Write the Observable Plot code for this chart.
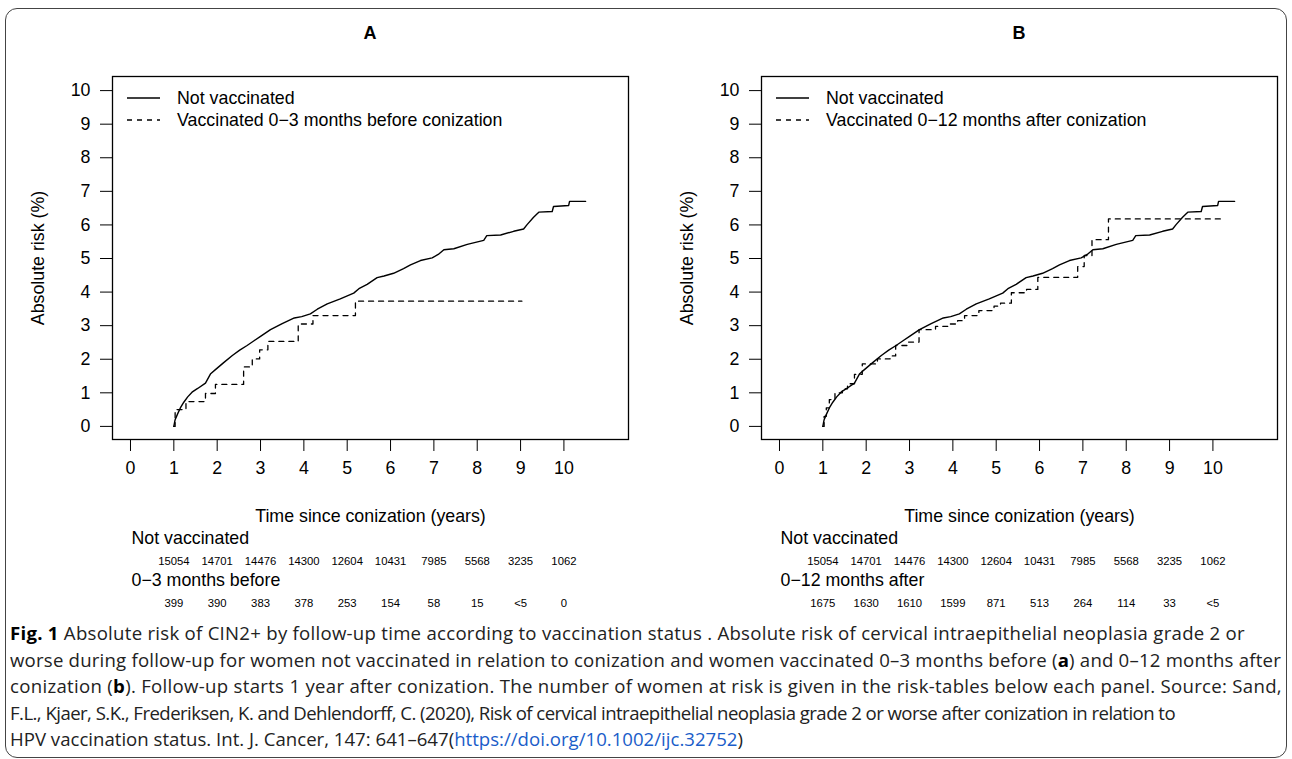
<!DOCTYPE html>
<html><head><meta charset="utf-8">
<script src="https://cdn.jsdelivr.net/npm/d3@7"></script>
<script src="https://cdn.jsdelivr.net/npm/@observablehq/plot@0.6"></script>
<style>
html,body{margin:0;padding:0;background:#fff;overflow:hidden;}
#fig{position:relative;width:1292px;height:759px;font-family:"Liberation Sans",Arial,sans-serif;color:#000;}
.border{position:absolute;left:5px;top:8px;width:1282px;height:750px;border:1px solid #444;border-radius:12px;box-sizing:border-box;}
.ptitle{position:absolute;top:23px;font-weight:bold;font-size:18px;transform:translateX(-50%);}
.panel{position:absolute;top:0;}
.rtable{position:absolute;top:525px;}
.legend{position:absolute;top:87px;font-size:17.8px;line-height:22px;}
.legend div{display:flex;align-items:center;white-space:nowrap;}
.legend svg{margin-right:17px;}
.caption{position:absolute;left:10px;top:620px;font-family:"Open Sans",sans-serif;font-size:18.6px;line-height:26.5px;color:#222;white-space:nowrap;}
.caption div{height:26.5px;}
.caption span.l{display:inline-block;}
.caption b{color:#000;}
.caption .link{color:#1a5dc9;}
</style></head>
<body><div id="fig"><div class="border"></div></div>
<script>
// ---- data ----
const xTicks = [0,1,2,3,4,5,6,7,8,9,10];
const yTicks = [0,1,2,3,4,5,6,7,8,9,10];
const riskYears = [1,2,3,4,5,6,7,8,9,10];
const panelTitles = ["A","B"];

const notVaxTime = [1.00,1.03,1.09,1.15,1.23,1.32,1.42,1.55,1.73,1.85,1.96,2.15,2.35,2.52,2.69,2.85,3.00,3.23,3.50,3.78,3.95,4.15,4.31,4.54,4.84,5.15,5.27,5.46,5.69,5.85,6.07,6.30,6.46,6.69,6.96,7.10,7.23,7.46,7.77,8.15,8.22,8.54,8.84,9.07,9.15,9.30,9.42,9.73,9.76,10.11,10.13,10.50];
const notVaxRisk = [0.00,0.20,0.38,0.55,0.72,0.88,1.02,1.13,1.29,1.57,1.69,1.90,2.11,2.27,2.41,2.55,2.68,2.88,3.06,3.23,3.27,3.35,3.49,3.65,3.80,3.97,4.10,4.23,4.43,4.48,4.56,4.70,4.81,4.94,5.02,5.12,5.26,5.29,5.42,5.54,5.68,5.70,5.81,5.88,6.01,6.23,6.38,6.40,6.55,6.58,6.70,6.70];

const vaxBeforeTime = [1.00,1.03,1.28,1.73,1.96,2.61,2.81,2.98,3.17,3.87,4.21,5.19,9.03];
const vaxBeforeRisk = [0.00,0.50,0.74,0.98,1.25,1.77,2.01,2.28,2.53,3.05,3.30,3.73,3.73];

const vaxAfterTime = [1.00,1.03,1.08,1.15,1.28,1.45,1.57,1.73,1.91,2.26,2.55,2.68,2.95,3.22,3.60,3.90,4.11,4.27,4.60,4.95,5.10,5.35,5.70,5.96,6.88,7.03,7.21,7.59,10.19];
const vaxAfterRisk = [0.00,0.30,0.55,0.80,1.00,1.12,1.27,1.55,1.86,2.01,2.10,2.41,2.51,2.88,2.98,3.05,3.15,3.30,3.45,3.58,3.67,3.98,4.08,4.44,4.76,5.09,5.56,6.18,6.18];

const atRiskNotVax = ["15054","14701","14476","14300","12604","10431","7985","5568","3235","1062"];
const atRiskBefore = ["399","390","383","378","253","154","58","15","<5","0"];
const atRiskAfter  = ["1675","1630","1610","1599","871","513","264","114","33","<5"];

const legendA = ["Not vaccinated","Vaccinated 0\u22123 months before conization"];
const legendB = ["Not vaccinated","Vaccinated 0\u221212 months after conization"];
const rowLabelsA = ["Not vaccinated","0\u22123 months before"];
const rowLabelsB = ["Not vaccinated","0\u221212 months after"];

const xLabel = "Time since conization (years)";
const yLabel = "Absolute risk (%)";

const captionLines = [
  `<b>Fig. 1</b> Absolute risk of CIN2+ by follow-up time according to vaccination status . Absolute risk of cervical intraepithelial neoplasia grade 2 or`,
  `worse during follow-up for women not vaccinated in relation to conization and women vaccinated 0–3 months before (<b>a</b>) and 0–12 months after`,
  `conization (<b>b</b>). Follow-up starts 1 year after conization. The number of women at risk is given in the risk-tables below each panel. Source: Sand,`,
  `F.L., Kjaer, S.K., Frederiksen, K. and Dehlendorff, C. (2020), Risk of cervical intraepithelial neoplasia grade 2 or worse after conization in relation to`,
  `HPV vaccination status. Int. J. Cancer, 147: 641–647(<span class="link">https://doi.org/10.1002/ijc.32752</span>)`
];
const captionLineWidths = [1235, 1271, 1272, 1165, 733];

// ---- drawing ----
const fig = document.getElementById("fig");
const FONT = '"Liberation Sans", Arial, sans-serif';
const XDOM = [-0.415, 11.49];
const YDOM = [-0.39, 10.42];
const toPts = (t, r) => t.map((x, i) => ({time: x, risk: r[i]}));

function panel(left, W, MR, title, legend, dTime, dRisk, rowLabels, dAtRisk) {
  const solid = toPts(notVaxTime, notVaxRisk);
  const dashed = toPts(dTime, dRisk);
  const style = {fontFamily: FONT, fontSize: "17.8px", color: "black", background: "transparent", overflow: "visible"};
  const main = Plot.plot({
    width: W, height: 525, marginTop: 76, marginLeft: 112, marginRight: MR, marginBottom: 86,
    x: {domain: XDOM}, y: {domain: YDOM},
    style,
    marks: [
      Plot.frame({stroke: "black", strokeWidth: 1.3}),
      Plot.axisX({ticks: xTicks, tickSize: 12, tickPadding: 10, label: null, tickFormat: d => String(d)}),
      Plot.axisY({ticks: yTicks, tickSize: 12, tickPadding: 10, label: null, tickFormat: d => String(d)}),
      Plot.line(solid, {x: "time", y: "risk", stroke: "black", strokeWidth: 1.4}),
      Plot.line(dashed, {x: "time", y: "risk", curve: "step-after", stroke: "black", strokeWidth: 1.3, strokeDasharray: "5,5"}),
      Plot.text([yLabel], {text: d => d, frameAnchor: "left", rotate: -90, dx: -74, textAnchor: "middle", lineAnchor: "middle"}),
      Plot.text([xLabel], {text: d => d, frameAnchor: "bottom", dy: 77, textAnchor: "middle", lineAnchor: "middle"})
    ]
  });
  main.classList.add("panel");
  main.style.left = left + "px";
  fig.appendChild(main);

  const tableData = riskYears.flatMap((yr, i) => [
    {time: yr, row: rowLabels[0], n: atRiskNotVax[i]},
    {time: yr, row: rowLabels[1], n: dAtRisk[i]}
  ]);
  const tbl = Plot.plot({
    width: W, height: 90, marginTop: 36, marginBottom: 12, marginLeft: 112, marginRight: MR,
    x: {domain: XDOM, axis: null},
    y: {type: "point", domain: rowLabels, padding: 0, axis: null},
    style,
    marks: [
      Plot.text(tableData, {x: "time", y: "row", text: "n", fontSize: 11.3}),
      Plot.text(rowLabels, {y: d => d, text: d => d, frameAnchor: "left", dx: 19, dy: -23.5, textAnchor: "start", lineAnchor: "middle"})
    ]
  });
  tbl.classList.add("rtable");
  tbl.style.left = left + "px";
  fig.appendChild(tbl);

  const t = document.createElement("div");
  t.className = "ptitle";
  t.style.left = (left + 112 + (W - 112 - MR) / 2) + "px";
  t.textContent = title;
  fig.appendChild(t);

  const lg = document.createElement("div");
  lg.className = "legend";
  lg.style.left = (left + 112 + 15) + "px";
  legend.forEach((lab, i) => {
    const row = document.createElement("div");
    row.innerHTML = `<svg width="33" height="22"><line x1="0" x2="33" y1="11" y2="11" stroke="black" stroke-width="1.3" ${i ? 'stroke-dasharray="5,5"' : ''}/></svg><span>${lab}</span>`;
    lg.appendChild(row);
  });
  fig.appendChild(lg);
}

panel(0, 646, 18, panelTitles[0], legendA, vaxBeforeTime, vaxBeforeRisk, rowLabelsA, atRiskBefore);
panel(649, 643, 15, panelTitles[1], legendB, vaxAfterTime, vaxAfterRisk, rowLabelsB, atRiskAfter);

const cap = document.createElement("div");
cap.className = "caption";
cap.innerHTML = captionLines.map(l => `<div><span class="l">${l}</span></div>`).join("");
fig.appendChild(cap);
// fit each caption line to the width it spans in the reference via letter spacing
cap.querySelectorAll("span.l").forEach((s, i) => {
  const w = s.getBoundingClientRect().width;
  const n = s.textContent.length;
  s.style.letterSpacing = ((captionLineWidths[i] - w) / n).toFixed(3) + "px";
});
</script>
</body></html>
